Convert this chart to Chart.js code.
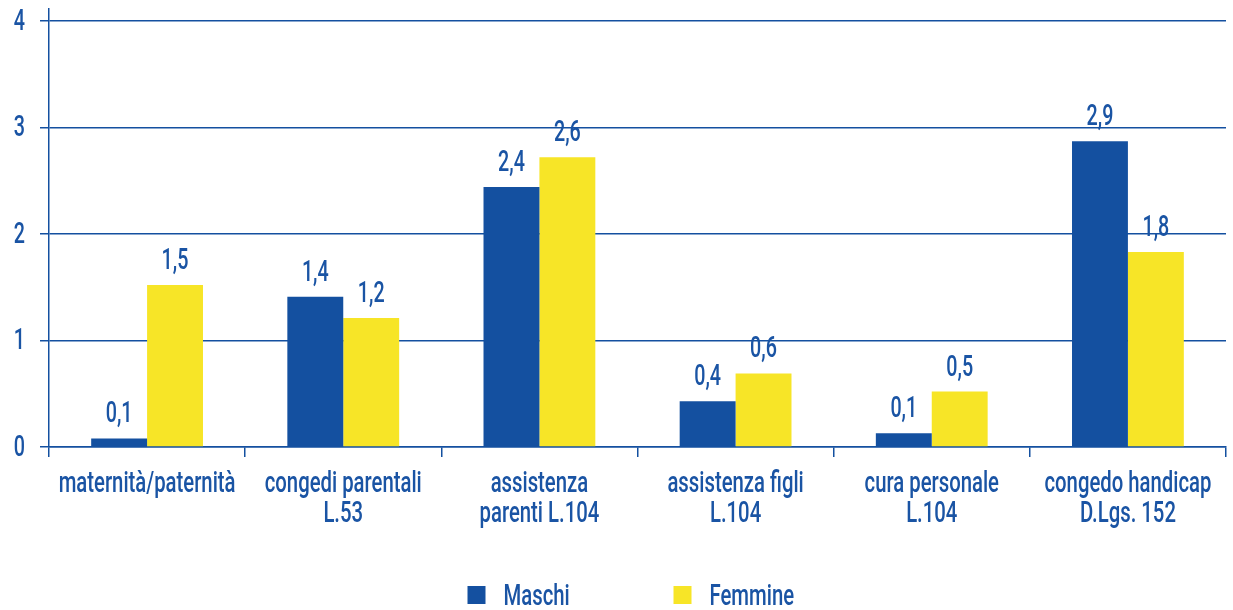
<!DOCTYPE html>
<html><head><meta charset="utf-8">
<script src="https://cdn.jsdelivr.net/npm/chart.js@4"></script>
<style>html,body{margin:0;padding:0;background:#fff}</style>
</head><body><canvas id="c" width="1233" height="610" style="width:1233px;height:610px;display:block"></canvas>
<script>
const categories = [["maternità/paternità"],["congedi parentali","L.53"],["assistenza","parenti L.104"],["assistenza figli","L.104"],["cura personale","L.104"],["congedo handicap","D.Lgs. 152"]];
const seriesNames = ["Maschi","Femmine"];
const maschi = [0.08,1.41,2.44,0.43,0.13,2.87];
const femmine = [1.52,1.21,2.72,0.69,0.52,1.83];
const maschiLabels = ["0,1","1,4","2,4","0,4","0,1","2,9"];
const femmineLabels = ["1,5","1,2","2,6","0,6","0,5","1,8"];
const yTicks = [0,1,2,3,4];

const BLUE = "#1450a0";
const YELLOW = "#f7e527";
const TEXT = "#1a54a4";
const FONT = 'Roboto, "Noto Sans", sans-serif';
const FS = 29;
const SX_TEXT = 0.70;
const SX_NUM = 0.68;
const valueLabels = [maschiLabels, femmineLabels];

function condText(ctx, text, x, y, sx, align) {
  ctx.save();
  ctx.translate(x, y);
  ctx.scale(sx, 1);
  ctx.textAlign = align || 'center';
  ctx.fillText(text, 0, 0);
  ctx.restore();
}

const textPlugin = {
  id: 'condensedText',
  afterDraw(chart) {
    const ctx = chart.ctx;
    const ca = chart.chartArea;
    const xs = chart.scales.x, ys = chart.scales.y;
    ctx.save();
    ctx.font = '500 ' + FS + 'px ' + FONT;
    ctx.fillStyle = TEXT;
    ctx.textBaseline = 'alphabetic';
    chart.data.datasets.forEach((ds, i) => {
      chart.getDatasetMeta(i).data.forEach((bar, j) => {
        condText(ctx, valueLabels[i][j], bar.x, bar.y - 16, SX_NUM);
      });
    });
    chart.data.labels.forEach((lab, i) => {
      const x = xs.getPixelForTick(i);
      lab.forEach((line, k) => {
        condText(ctx, line, x, ca.bottom + 45 + k * 30, SX_TEXT);
      });
    });
    ys.ticks.forEach(t => {
      condText(ctx, String(t.value), ca.left - 24, ys.getPixelForValue(t.value) + 9, SX_NUM, 'right');
    });
    const cy = 595;
    let x = (ca.left + ca.right) / 2 - 170;
    chart.data.datasets.forEach((ds, i) => {
      ctx.fillStyle = ds.backgroundColor;
      ctx.fillRect(x, cy - 9, 18, 18);
      ctx.fillStyle = TEXT;
      condText(ctx, ds.label, x + 36, cy + 10, SX_TEXT, 'left');
      x += 206;
    });
    ctx.restore();
  }
};

new Chart(document.getElementById('c'), {
  type: 'bar',
  data: {
    labels: categories,
    datasets: [
      {label: seriesNames[0], data: maschi, backgroundColor: BLUE, categoryPercentage: 0.57, barPercentage: 1.0},
      {label: seriesNames[1], data: femmine, backgroundColor: YELLOW, categoryPercentage: 0.57, barPercentage: 1.0}
    ]
  },
  options: {
    responsive: false,
    devicePixelRatio: 1,
    animation: false,
    layout: {padding: {top: 9, right: 7, left: 0, bottom: 0}},
    plugins: {legend: {display: false}, tooltip: {enabled: false}},
    scales: {
      x: {
        grid: {offset: true, drawOnChartArea: false, drawTicks: true, tickLength: 10, color: BLUE, lineWidth: 1.5},
        border: {color: BLUE, width: 1.5},
        ticks: {display: false},
        afterFit(scale) { scale.height = 163; scale.paddingLeft = 0; scale.paddingRight = 0; }
      },
      y: {
        min: 0, max: 4.11,
        afterBuildTicks(scale) { scale.ticks = yTicks.map(v => ({value: v})); },
        grid: {color: BLUE, lineWidth: 1.5, tickLength: 9},
        border: {color: BLUE, width: 1.5},
        ticks: {display: false},
        afterFit(scale) { scale.width = 49; scale.paddingTop = 0; scale.paddingBottom = 0; }
      }
    }
  },
  plugins: [textPlugin]
});
</script>
</body></html>
